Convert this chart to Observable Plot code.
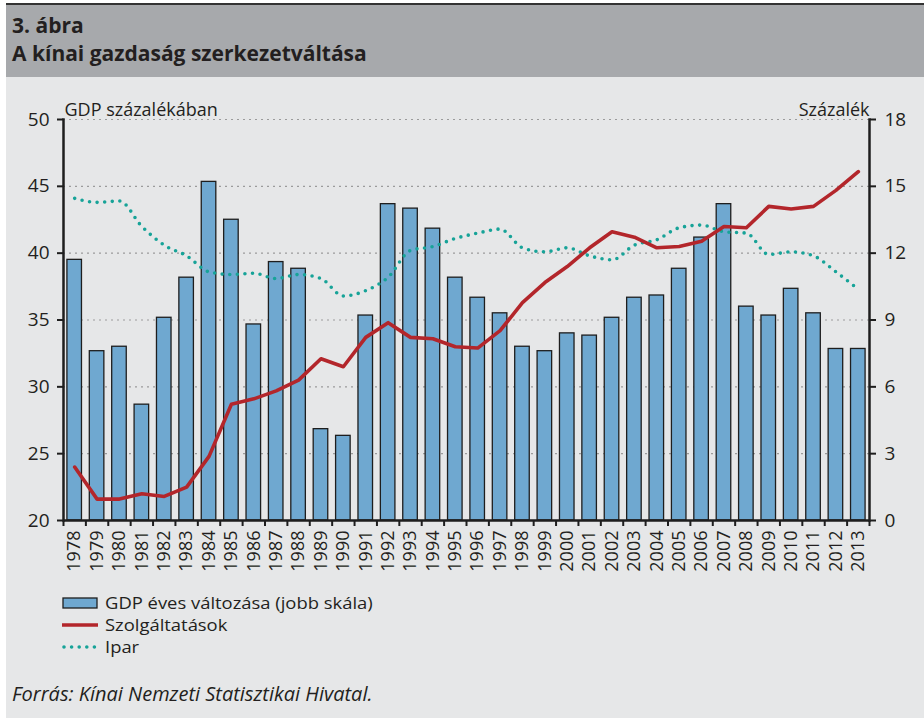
<!DOCTYPE html>
<html>
<head>
<meta charset="utf-8">
<script src="https://cdn.jsdelivr.net/npm/d3@7"></script>
<script src="https://cdn.jsdelivr.net/npm/@observablehq/plot@0.6"></script>
<style>
  body { margin: 0; background: #ffffff; }
  #page { position: relative; width: 924px; height: 722px; font-family: "Open Sans", sans-serif; color: #231f20; }
  #bg { position: absolute; left: 6px; top: 3px; width: 918px; height: 715px; background: #e6e7e8; }
  #header { position: absolute; left: 6px; top: 3px; width: 918px; height: 74px; background: #a7a9ac; border-top: 2.5px solid #333; box-sizing: border-box; }
  .title { position: absolute; left: 6px; font-weight: 700; font-size: 21px; line-height: 1; color: #231f20; white-space: nowrap; }
  #chart { position: absolute; left: 0; top: 80px; }
  #legend { position: absolute; left: 62px; top: 592px; font-size: 16px; line-height: 22px; }
  .row { display: flex; align-items: center; height: 22px; }
  .row svg { margin-right: 7px; flex: none; }
  .row span { display: inline-block; transform: scaleX(1.15); transform-origin: left center; white-space: nowrap; }
  #caption { position: absolute; left: 12px; top: 684px; font-size: 20px; line-height: 1; font-style: italic; white-space: nowrap; }
</style>
</head>
<body>
<div id="page">
  <div id="bg"></div>
  <div id="header">
    <div class="title" style="top:10px">3. ábra</div>
    <div class="title" style="top:38px">A kínai gazdaság szerkezetváltása</div>
  </div>
  <div id="chart"></div>
  <div id="legend"></div>
  <div id="caption">Forrás: Kínai Nemzeti Statisztikai Hivatal.</div>
</div>
<script>
const years = d3.range(1978, 2014).map(String);
const gdpGrowth = [11.7,7.6,7.8,5.2,9.1,10.9,15.2,13.5,8.8,11.6,
                   11.3,4.1,3.8,9.2,14.2,14.0,13.1,10.9,10.0,9.3,
                   7.8,7.6,8.4,8.3,9.1,10.0,10.1,11.3,12.7,14.2,
                   9.6,9.2,10.4,9.3,7.7,7.7];
const services = [24.0,21.6,21.6,22.0,21.8,22.5,24.8,28.7,29.1,29.7,
                  30.5,32.1,31.5,33.7,34.8,33.7,33.6,33.0,32.9,34.2,
                  36.3,37.8,39.0,40.4,41.6,41.2,40.4,40.5,40.9,42.0,
                  41.9,43.5,43.3,43.5,44.7,46.1];
const industry = [44.1,43.8,43.9,42.0,40.6,39.8,38.6,38.4,38.5,38.1,
                  38.4,38.1,36.8,37.2,38.2,40.2,40.5,41.1,41.5,41.8,
                  40.4,40.1,40.4,39.8,39.5,40.6,41.0,41.9,42.1,41.6,
                  41.5,39.9,40.1,39.8,38.6,37.3];
const leftTicks = [20,25,30,35,40,45,50];
const rightTicks = [0,3,6,9,12,15,18];
const leftLabel = "GDP százalékában";
const rightLabel = "Százalék";
const seriesNames = ["GDP éves változása (jobb skála)", "Szolgáltatások", "Ipar"];

const colBar = "#6fa8d0", colServ = "#b3262b", colInd = "#17a398";

// right scale (0–18) mapped onto left scale (20–50)
const toLeft = v => 20 + v * 30 / 18;
const toRight = v => Math.round((v - 20) * 18 / 30);

const data = years.map((y, i) => ({year: y, gdp: gdpGrowth[i], serv: services[i], ind: industry[i]}));

const W = 924, mL = 63, mR = 55;
const step = (W - mL - mR) / years.length;

const chart = Plot.plot({
  width: W,
  height: 510,
  marginTop: 39,
  marginBottom: 70,
  marginLeft: mL,
  marginRight: mR,
  style: {background: "transparent", fontFamily: "Open Sans, sans-serif", color: "#231f20"},
  x: {type: "band", domain: years, paddingInner: 0.35, paddingOuter: 0.175, round: false},
  y: {domain: [20, 50]},
  marks: [
    Plot.ruleY(leftTicks.filter(d => d > 20), {stroke: "#9b9b9b", strokeWidth: 1.2, strokeDasharray: "2,4"}),
    Plot.barY(data, {x: "year", y1: 20, y2: d => toLeft(d.gdp), fill: colBar, stroke: "#1e1e1e", strokeWidth: 1.3}),
    Plot.line(data, {x: "year", y: "ind", stroke: colInd, strokeWidth: 3.6, strokeDasharray: "0,7.6", strokeLinecap: "round", curve: "monotone-x"}),
    Plot.line(data, {x: "year", y: "serv", stroke: colServ, strokeWidth: 3.6, strokeLinejoin: "round"}),
    Plot.ruleY([20], {stroke: "#1e1e1e", strokeWidth: 2.5}),
    Plot.frame({anchor: "left", stroke: "#1e1e1e", strokeWidth: 2.5}),
    Plot.frame({anchor: "right", stroke: "#1e1e1e", strokeWidth: 2.5}),
    Plot.ruleX(years, {x: d => d, y1: 20, y2: 19.55, dx: -step / 2, stroke: "#1e1e1e", strokeWidth: 2}),
    Plot.ruleX([years[years.length - 1]], {x: d => d, y1: 20, y2: 19.55, dx: step / 2, stroke: "#1e1e1e", strokeWidth: 2}),
    Plot.axisY(leftTicks, {anchor: "left", tickSize: 6, tickPadding: 8, fontSize: 19, stroke: "#1e1e1e", strokeWidth: 2, label: null}),
    Plot.axisY(leftTicks, {anchor: "right", tickSize: 6, tickPadding: 9, fontSize: 19, stroke: "#1e1e1e", strokeWidth: 2, tickFormat: toRight, label: null}),
    Plot.axisX({tickRotate: -90, tickSize: 0, tickPadding: 10, fontSize: 18, label: null}),
    Plot.text([leftLabel], {frameAnchor: "top-left", textAnchor: "start", dx: 1, dy: -16, fontSize: 18}),
    Plot.text([rightLabel], {frameAnchor: "top-right", textAnchor: "end", dx: 0, dy: -16, fontSize: 18})
  ]
});
document.getElementById("chart").appendChild(chart);

// legend
const legend = document.getElementById("legend");
const swatches = [
  `<svg width="36" height="12"><rect x="1" y="1" width="34" height="10" fill="${colBar}" stroke="#1e1e1e" stroke-width="1.3"/></svg>`,
  `<svg width="36" height="12"><line x1="0" y1="6" x2="36" y2="6" stroke="${colServ}" stroke-width="3.6"/></svg>`,
  `<svg width="36" height="12"><line x1="2" y1="6" x2="36" y2="6" stroke="${colInd}" stroke-width="3.6" stroke-dasharray="0,7.6" stroke-linecap="round"/></svg>`
];
seriesNames.forEach((name, i) => {
  const row = document.createElement("div");
  row.className = "row";
  row.innerHTML = swatches[i] + `<span>${name}</span>`;
  legend.appendChild(row);
});
</script>
</body>
</html>
